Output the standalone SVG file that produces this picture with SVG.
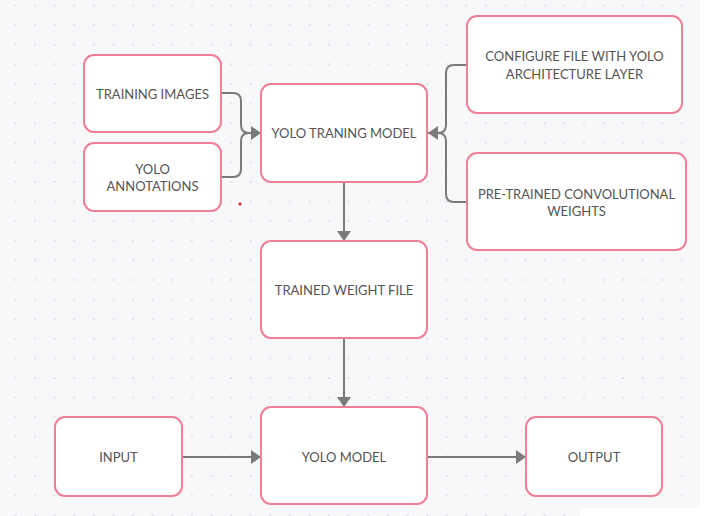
<svg xmlns="http://www.w3.org/2000/svg" width="706" height="516" viewBox="0 0 706 516">
<defs>
<pattern id="dots" x="5.7" y="-4.3" width="19.6" height="19.6" patternUnits="userSpaceOnUse">
<circle cx="9.8" cy="9.8" r="1.1" fill="#dedee3"/>
</pattern>
<marker id="arr" markerUnits="userSpaceOnUse" markerWidth="12" markerHeight="16" refX="10" refY="7" orient="auto">
<path d="M0,0 L10,7 L0,14 Z" fill="#7a7a7a"/>
</marker>
<style>
.box{fill:#ffffff;stroke:#ee7f96;stroke-width:2}
.lbl{font-family:Lato,"Liberation Sans",sans-serif;font-size:13px;fill:#555555;text-anchor:middle;dominant-baseline:central}
.con{fill:none;stroke:#7a7a7a;stroke-width:2}
</style>
</defs>
<rect width="706" height="516" fill="#f8f8fb"/>
<rect width="706" height="516" fill="url(#dots)"/>
<rect x="700" y="0" width="6" height="516" fill="#ffffff"/>
<rect x="580" y="508" width="126" height="8" fill="#ffffff"/>
<circle cx="240" cy="204" r="1.6" fill="#e02030"/>
<g id="connectors">
<path class="con" d="M221,93 H233 Q241,93 241,101 V125 Q241,133 249,133 H261" marker-end="url(#arr)"/>
<path class="con" d="M221,177 H233 Q241,177 241,169 V141 Q241,133 249,133 H261"/>
<path class="con" d="M467,65 H454 Q446,65 446,73 V125 Q446,133 438,133 H428" marker-end="url(#arr)"/>
<path class="con" d="M467,202 H454 Q446,202 446,194 V141 Q446,133 438,133 H428"/>
<path class="con" d="M344,182 V241" marker-end="url(#arr)"/>
<path class="con" d="M344,338 V407" marker-end="url(#arr)"/>
<path class="con" d="M182,457 H261" marker-end="url(#arr)"/>
<path class="con" d="M427,457 H526" marker-end="url(#arr)"/>
</g>
<g id="training-images">
<rect class="box" x="84" y="55" width="137" height="77" rx="10"/>
<text class="lbl" x="152.5" y="94">TRAINING IMAGES</text>
</g>
<g id="yolo-annotations">
<rect class="box" x="84" y="143" width="137" height="68" rx="10"/>
<text class="lbl" x="152.5" y="168.5">YOLO</text>
<text class="lbl" x="152.5" y="186">ANNOTATIONS</text>
</g>
<g id="yolo-training-model">
<rect class="box" x="261" y="84" width="166" height="98" rx="10"/>
<text class="lbl" x="344" y="133">YOLO TRANING MODEL</text>
</g>
<g id="configure-file">
<rect class="box" x="467" y="16" width="215" height="97" rx="10"/>
<text class="lbl" x="574.5" y="56">CONFIGURE FILE WITH YOLO</text>
<text class="lbl" x="574.5" y="73.5">ARCHITECTURE LAYER</text>
</g>
<g id="pretrained-weights">
<rect class="box" x="467" y="153" width="219" height="97" rx="10"/>
<text class="lbl" x="576.5" y="193.5">PRE-TRAINED CONVOLUTIONAL</text>
<text class="lbl" x="576.5" y="211">WEIGHTS</text>
</g>
<g id="trained-weight-file">
<rect class="box" x="261" y="241" width="166" height="97" rx="10"/>
<text class="lbl" x="344" y="290">TRAINED WEIGHT FILE</text>
</g>
<g id="yolo-model">
<rect class="box" x="261" y="407" width="166" height="97" rx="10"/>
<text class="lbl" x="344" y="456.5">YOLO MODEL</text>
</g>
<g id="input">
<rect class="box" x="55" y="417" width="127" height="79" rx="10"/>
<text class="lbl" x="118.5" y="456.5">INPUT</text>
</g>
<g id="output">
<rect class="box" x="526" y="417" width="136" height="79" rx="10"/>
<text class="lbl" x="594" y="456.5">OUTPUT</text>
</g>
</svg>
